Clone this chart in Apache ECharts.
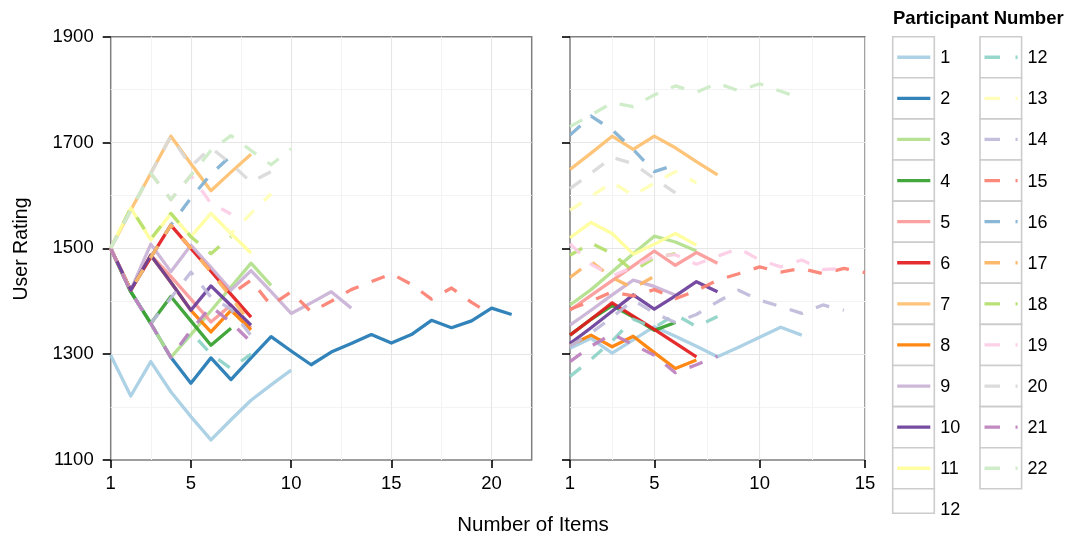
<!DOCTYPE html>
<html>
<head>
<meta charset="utf-8">
<script src="https://cdn.jsdelivr.net/npm/echarts@6/dist/echarts.min.js"></script>
<style>
html,body{margin:0;padding:0;background:#fff;}
#chart{width:1070px;height:537px;}
</style>
</head>
<body>
<div id="chart"></div>
<script>
// ---------- DATA ----------
const participants = ['1','2','3','4','5','6','7','8','9','10','11','12','13','14','15','16','17','18','19','20','21','22'];
const solidColors = ['#A6CEE3','#1F78B4','#B2DF8A','#33A02C','#FB9A99','#E31A1C','#FDBF6F','#FF7F00','#CAB2D6','#6A3D9A','#FFFF99'];
const dashedColors = ['#8DD3C7','#FFFFB3','#BEBADA','#FB8072','#80B1D3','#FDB462','#B3DE69','#FCCDE5','#D9D9D9','#BC80BD','#CCEBC5'];

const leftXTicks = [1, 5, 10, 15, 20];
const rightXTicks = [1, 5, 10, 15];
const yTicks = [1100, 1300, 1500, 1700, 1900];
const leftXMinor = [3, 7.5, 12.5, 17.5];
const rightXMinor = [3, 7.5, 12.5];
const yMinor = [1200, 1400, 1600, 1800];

// Left panel: rating after each item
const p1Left  = [1298,1221,1286,1229,1182,1138,1176,1213,1242,1270];
const p2Left  = [1500,1418,1358,1294,1245,1293,1252,1293,1333,1306,1280,1304,1320,1337,1321,1337,1364,1350,1363,1387,1375];
const p3Left  = [1500,1418,1358,1294,1337,1382,1427,1472,1430];
const p4Left  = [1500,1418,1358,1409,1363,1317,1349];
const p5Left  = [1500,1421,1487,1447,1404,1361,1393,1350];
const p6Left  = [1500,1421,1483,1544,1500,1457,1413,1370];
const p7Left  = [1500,1572,1642,1712,1660,1609,1644,1678];
const p8Left  = [1500,1421,1487,1436,1383,1342,1383,1346];
const p9Left  = [1500,1421,1508,1456,1506,1464,1421,1458,1418,1377,1397,1418,1387];
const p10Left = [1500,1421,1487,1436,1383,1429,1392,1355];
const p11Left = [1500,1576,1516,1566,1522,1566,1528,1491];
const p12Left = [1500,1418,1358,1294,1342,1300,1273,1300];
const p13Left = [1500,1576,1516,1566,1522,1566,1528,1566,1603];
const p14Left = [1500,1418,1358,1406,1455,1408,1385,1335];
const p15Left = [1500,1421,1483,1544,1500,1457,1413,1440,1392,1418,1380,1400,1422,1437,1452,1432,1404,1425,1398,1374];
const p16Left = [1500,1421,1483,1544,1595,1640,1675];
const p17Left = [1500,1421,1483,1544,1500,1455,1408,1357];
const p18Left = [1500,1576,1518,1566,1522,1490,1522];
const p19Left = [1500,1572,1642,1592,1638,1585,1565];
const p20Left = [1500,1572,1642,1712,1655,1690,1660,1625,1645];
const p21Left = [1500,1418,1358,1294,1345,1390,1360,1323];
const p22Left = [1500,1572,1642,1592,1638,1685,1713,1685,1658,1688];

// Right panel
const p1Right  = [1311,1330,1302,1327,1352,1334,1315,1295,1313,1332,1351,1336];
const p2Right  = [];
const p3Right  = [1393,1422,1456,1490,1523,1512,1495];
const p4Right  = [1336,1366,1392,1370,1345,1360];
const p5Right  = [1383,1411,1439,1467,1495,1468,1492,1472];
const p6Right  = [1336,1366,1397,1372,1347,1321,1295];
const p7Right  = [1649,1680,1712,1687,1712,1690,1664,1639];
const p8Right  = [1317,1336,1314,1334,1303,1273,1289];
const p9Right  = [1355,1383,1412,1440,1428,1412];
const p10Right = [1320,1350,1381,1412,1385,1410,1437,1418];
const p11Right = [1520,1549,1528,1489,1508,1528,1506];
const p12Right = [1258,1290,1325,1366,1350,1375,1352,1371];
const p13Right = [1572,1598,1625,1600,1623,1645,1624];
const p14Right = [1315,1340,1370,1402,1378,1360,1375,1399,1421,1402,1390,1377,1393,1383];
const p15Right = [1385,1400,1418,1410,1422,1405,1420,1440,1452,1465,1455,1462,1452,1462,1454];
const p16Right = [1714,1750,1724,1687,1645,1658];
const p17Right = [1445,1475,1445,1425,1447];
const p18Right = [1487,1510,1490,1457,1482,1490];
const p19Right = [1509,1470,1448,1465,1485,1488,1470,1485,1500,1478,1465,1478,1460,1462];
const p20Right = [1613,1642,1672,1660,1632,1605];
const p21Right = [1286,1315,1338,1318,1298,1265,1280,1296];
const p22Right = [1730,1752,1775,1768,1790,1807,1795,1812,1798,1811,1797,1783];

const leftData = [p1Left,p2Left,p3Left,p4Left,p5Left,p6Left,p7Left,p8Left,p9Left,p10Left,p11Left,p12Left,p13Left,p14Left,p15Left,p16Left,p17Left,p18Left,p19Left,p20Left,p21Left,p22Left];
const rightData = [p1Right,p2Right,p3Right,p4Right,p5Right,p6Right,p7Right,p8Right,p9Right,p10Right,p11Right,p12Right,p13Right,p14Right,p15Right,p16Right,p17Right,p18Right,p19Right,p20Right,p21Right,p22Right];

// ---------- BUILD ----------
const FONT = '"Liberation Sans", Arial, Helvetica, sans-serif';
const DASH = [14, 14];
const OPACITY = 0.92;
const TICK_FONT = 18.5;

function colorOf(i) { return i < 11 ? solidColors[i] : dashedColors[i - 11]; }
function typeOf(i) { return i < 11 ? 'solid' : DASH; }

const GRID_TOP = 36.7, GRID_H = 423.3;
const grids = [
  { left: 110.7, top: GRID_TOP, width: 421, height: GRID_H, show: true, borderColor: '#7f7f7f', borderWidth: 1.5, backgroundColor: 'transparent' },
  { left: 570, top: GRID_TOP, width: 295, height: GRID_H, show: true, borderColor: '#7f7f7f', borderWidth: 1.5, backgroundColor: 'transparent' }
];

function plain(v) { return String(v); }

function xAxisFor(gi, max, ticks) {
  return {
    type: 'value', gridIndex: gi, min: 1, max: max,
    axisLine: { show: false },
    splitLine: { show: false },
    axisTick: { show: true, customValues: ticks, length: 8, inside: false, lineStyle: { color: '#000', width: 1.6 } },
    axisLabel: { show: true, customValues: ticks, formatter: plain, color: '#000', fontSize: TICK_FONT, fontFamily: FONT, margin: 14 }
  };
}
function yAxisFor(gi, showLabels) {
  return {
    type: 'value', gridIndex: gi, min: 1100, max: 1900,
    axisLine: { show: false },
    splitLine: { show: false },
    axisTick: { show: true, customValues: yTicks, length: 8, inside: false, lineStyle: { color: '#000', width: 1.6 } },
    axisLabel: { show: showLabels, customValues: yTicks, formatter: plain, color: '#000', fontSize: TICK_FONT, fontFamily: FONT, margin: 17 }
  };
}

function gridLineSeries(gi, xMajor, xMinor) {
  const d = [];
  yMinor.forEach(v => d.push({ yAxis: v, lineStyle: { color: '#f3f3f3', width: 1, type: 'solid' } }));
  xMinor.forEach(v => d.push({ xAxis: v, lineStyle: { color: '#f3f3f3', width: 1, type: 'solid' } }));
  yTicks.slice(1, -1).forEach(v => d.push({ yAxis: v, lineStyle: { color: '#e6e6e6', width: 1.1, type: 'solid' } }));
  xMajor.slice(1).forEach(v => d.push({ xAxis: v, lineStyle: { color: '#e6e6e6', width: 1.1, type: 'solid' } }));
  return {
    type: 'line', xAxisIndex: gi, yAxisIndex: gi, data: [[1, 1100]],
    showSymbol: false, symbol: 'none', lineStyle: { width: 0 }, silent: true, z: 1,
    markLine: { silent: true, symbol: 'none', animation: false, z: 1, label: { show: false }, data: d }
  };
}

const series = [gridLineSeries(0, leftXTicks, leftXMinor), gridLineSeries(1, rightXTicks, rightXMinor)];
[leftData, rightData].forEach((panel, gi) => {
  panel.forEach((vals, i) => {
    series.push({
      name: participants[i] + (gi ? ' (right)' : ''),
      type: 'line', xAxisIndex: gi, yAxisIndex: gi,
      data: vals.map((v, k) => [k + 1, v]),
      symbol: 'none', showSymbol: false, animation: false, silent: true, z: 3,
      lineStyle: { color: colorOf(i), width: 3.3, type: typeOf(i), cap: 'butt', join: 'round', opacity: OPACITY }
    });
  });
});

// ---------- LEGEND (graphic) ----------
const graphics = [];
const LEG_COLS = [892.7, 980];
const LEG_ROW0 = 36.7, LEG_ROW_H = 41.1, LEG_BOX_W = 41.6;
graphics.push({ type: 'text', left: 893, top: 9, style: { text: 'Participant Number', font: 'bold 18.5px ' + FONT, fill: '#000' } });
function legendRow(col, row, idx, label, boxH, labelY) {
  const x = LEG_COLS[col], y = LEG_ROW0 + row * LEG_ROW_H;
  const h = boxH || LEG_ROW_H;
  graphics.push({ type: 'rect', shape: { x: x, y: y, width: LEG_BOX_W, height: h }, style: { fill: '#fff', stroke: '#cccccc', lineWidth: 1.6 }, z: 10 });
  if (idx !== null) {
    const cy = y + h / 2;
    graphics.push({ type: 'line', shape: { x1: x + 4.5, y1: cy, x2: x + LEG_BOX_W - 4, y2: cy },
      style: { stroke: colorOf(idx), lineWidth: 3.3, lineDash: idx < 11 ? null : [15.5, 15.5], lineCap: 'butt', opacity: OPACITY }, z: 11 });
  }
  graphics.push({ type: 'text', x: x + 47.5, y: labelY !== undefined ? labelY : y + h / 2 + 1,
    style: { text: label, font: '18px ' + FONT, fill: '#000', textVerticalAlign: 'middle', verticalAlign: 'middle' }, z: 11 });
}
for (let i = 0; i < 11; i++) legendRow(0, i, i, participants[i]);
legendRow(0, 11, null, participants[11], 24.5, 510.5);
for (let i = 11; i < 22; i++) legendRow(1, i - 11, i, participants[i]);

// axis titles
graphics.push({ type: 'text', x: 533, y: 525, style: { text: 'Number of Items', font: '20.5px ' + FONT, fill: '#000', textAlign: 'center', align: 'center', textVerticalAlign: 'middle', verticalAlign: 'middle' } });
graphics.push({ type: 'text', x: 22, y: 249, rotation: Math.PI / 2, style: { text: 'User Rating', font: '19.5px ' + FONT, fill: '#000', textAlign: 'center', align: 'center', textVerticalAlign: 'middle', verticalAlign: 'middle' } });

const chart = echarts.init(document.getElementById('chart'), null, { renderer: 'canvas' });
chart.setOption({
  backgroundColor: '#fff',
  animation: false,
  grid: grids,
  xAxis: [xAxisFor(0, 22, leftXTicks), xAxisFor(1, 15, rightXTicks)],
  yAxis: [yAxisFor(0, true), yAxisFor(1, false)],
  series: series,
  graphic: graphics
});
</script>
</body>
</html>
